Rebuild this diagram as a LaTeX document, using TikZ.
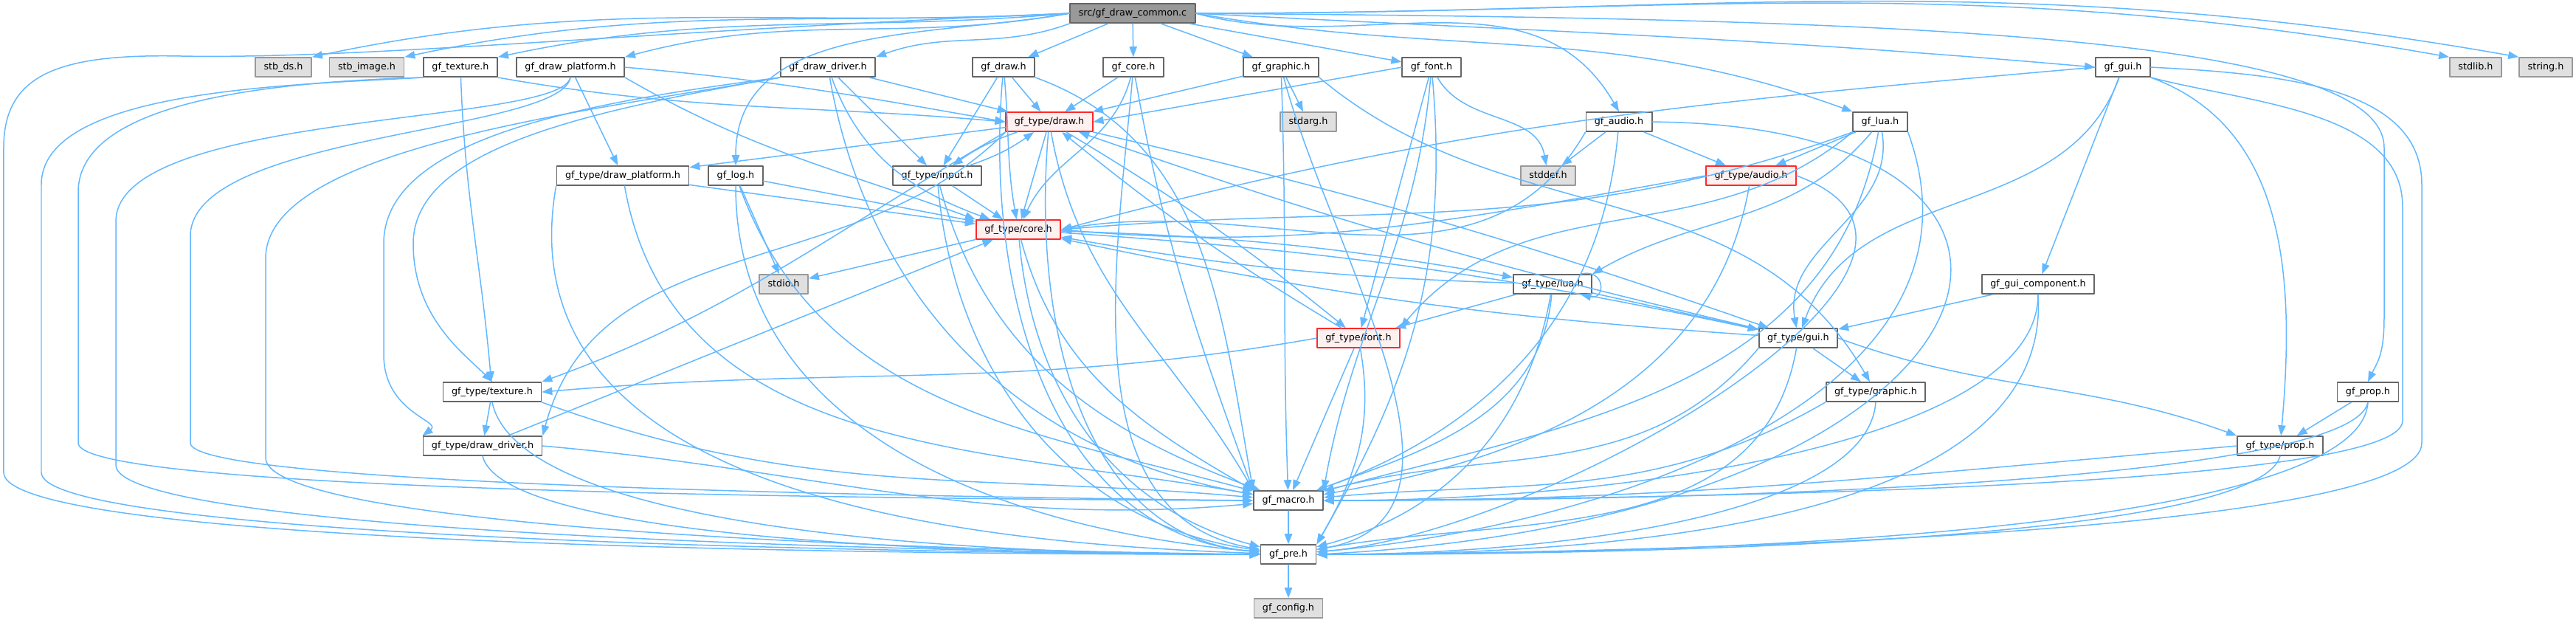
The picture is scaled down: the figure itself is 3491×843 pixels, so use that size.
\documentclass[tikz,border=0pt]{standalone}
\usepackage{fontspec}
\setmainfont{DejaVu Sans}
\usetikzlibrary{arrows.meta}
\begin{document}
\begin{tikzpicture}[x=0.05pt, y=0.05pt, line cap=round, line join=round,
  >={Triangle[length=0.7pt,width=0.52pt]},
  hfile/.style={draw=hborder, fill=white, line width=0.09pt, minimum height=1.3pt, inner xsep=0.575pt, inner ysep=0pt, text height=0.48pt, text depth=0.14pt, font=\fontsize{0.6375pt}{0.78pt}\selectfont},
  redfile/.style={hfile, draw=redborder, fill=redfill},
  sysfile/.style={hfile, draw=sysborder, fill=sysfill},
  rootfile/.style={hfile, draw=hborder, fill=rootfill},
  dep/.style={draw=depblue, line width=0.075pt, ->}]
  \definecolor{depblue}{RGB}{99,184,255}
  \definecolor{hborder}{RGB}{102,102,102}
  \definecolor{redborder}{RGB}{255,40,40}
  \definecolor{redfill}{RGB}{255,240,240}
  \definecolor{sysborder}{RGB}{153,153,153}
  \definecolor{sysfill}{RGB}{224,224,224}
  \definecolor{rootfill}{RGB}{153,153,153}
  \useasboundingbox (0,0) rectangle (3491,-843);
  \node[rootfile] (main) at (1535,-18) {src/gf\_draw\_common.c};
  \node[sysfile] (stbds) at (384,-91) {stb\_ds.h};
  \node[sysfile] (stbimage) at (497,-91) {stb\_image.h};
  \node[hfile] (texture) at (624,-91) {gf\_texture.h};
  \node[hfile] (drawplat) at (773,-91) {gf\_draw\_platform.h};
  \node[hfile] (drawdrv) at (1122,-91) {gf\_draw\_driver.h};
  \node[hfile] (draw) at (1360,-91) {gf\_draw.h};
  \node[hfile] (core) at (1536,-91) {gf\_core.h};
  \node[hfile] (graphic) at (1736,-91) {gf\_graphic.h};
  \node[hfile] (font) at (1940,-91) {gf\_font.h};
  \node[hfile] (gui) at (2877,-91) {gf\_gui.h};
  \node[sysfile] (stdlib) at (3355,-91) {stdlib.h};
  \node[sysfile] (string) at (3450,-91) {string.h};
  \node[redfile] (tdraw) at (1422,-165) {gf\_type/draw.h};
  \node[sysfile] (stdarg) at (1773,-165) {stdarg.h};
  \node[hfile] (audio) at (2194,-165) {gf\_audio.h};
  \node[hfile] (lua) at (2548,-165) {gf\_lua.h};
  \node[hfile] (tdrawplat) at (844,-238) {gf\_type/draw\_platform.h};
  \node[hfile] (log) at (997,-238) {gf\_log.h};
  \node[hfile] (tinput) at (1270,-238) {gf\_type/input.h};
  \node[sysfile] (stddef) at (2098,-238) {stddef.h};
  \node[redfile] (taudio) at (2373,-238) {gf\_type/audio.h};
  \node[redfile] (tcore) at (1380,-311) {gf\_type/core.h};
  \node[sysfile] (stdio) at (1062,-385) {stdio.h};
  \node[hfile] (tlua) at (2104,-385) {gf\_type/lua.h};
  \node[hfile] (guicomp) at (2762,-385) {gf\_gui\_component.h};
  \node[redfile] (tfont) at (1841,-458) {gf\_type/font.h};
  \node[hfile] (tgui) at (2437,-458) {gf\_type/gui.h};
  \node[hfile] (ttexture) at (667,-531) {gf\_type/texture.h};
  \node[hfile] (tgraphic) at (2542,-531) {gf\_type/graphic.h};
  \node[hfile] (prop) at (3209,-531) {gf\_prop.h};
  \node[hfile] (tdrawdrv) at (654,-604) {gf\_type/draw\_driver.h};
  \node[hfile] (tprop) at (3090,-604) {gf\_type/prop.h};
  \node[hfile] (macro) at (1746,-678) {gf\_macro.h};
  \node[hfile] (pre) at (1746,-751) {gf\_pre.h};
  \node[sysfile] (config) at (1746,-824) {gf\_config.h};
  \draw[dep] (main.west) to[out=183,in=12] (stbds.north east);
  \draw[dep] (main.west) to[out=183,in=12] (stbimage.north east);
  \draw[dep] (main.west) to[out=185,in=12] (texture.north east);
  \draw[dep] (main.west) to[out=190,in=15] (drawplat.north east);
  \draw[dep] (main.south west) to[out=200,in=20] (drawdrv.north east);
  \draw[dep] (main) -- (draw);
  \draw[dep] (main) -- (core);
  \draw[dep] (main) -- (graphic);
  \draw[dep] (main) -- (font);
  \draw[dep] (main.east) to[out=-3,in=175] (gui.west);
  \draw[dep] (main.east) to[out=0,in=170] (stdlib.north west);
  \draw[dep] (main.east) to[out=0,in=170] (string.north west);
  \draw[dep] (main.west) to[out=190,in=90] (log.north);
  \draw[dep] (main.east) to[out=-15,in=120] (audio.north);
  \draw[dep] (main.east) to[out=-10,in=160] (lua.north west);
  \draw[dep] (main.east) .. controls (2500,-25) and (3231,-40) .. (3231,-200) -- (3231,-430) .. controls (3231,-480) and (3222,-490) .. (prop.north);
  \draw[dep] (main.west) .. controls (900,-40) and (500,-80) .. (250,-76) .. controls (80,-72) and (5,-100) .. (5,-200) -- (5,-640) .. controls (5,-730) and (1000,-751) .. (pre.west);
  \draw[dep] (texture.south east) to[out=-10,in=175] (tdraw.west);
  \draw[dep] (texture) to[out=-88,in=95] (ttexture);
  \draw[dep] (texture.south west) .. controls (400,-110) and (106,-130) .. (106,-260) -- (106,-600) .. controls (106,-660) and (1000,-675) .. (macro.west);
  \draw[dep] (texture.south west) .. controls (400,-115) and (56,-120) .. (56,-250) -- (56,-640) .. controls (56,-720) and (1000,-748) .. (pre.west);
  \draw[dep] (drawplat) -- (tdrawplat);
  \draw[dep] (drawplat.east) to[out=-5,in=170] (tdraw.west);
  \draw[dep] (drawplat.south east) to[out=-30,in=160] (tcore.north west);
  \draw[dep] (drawplat.south) .. controls (760,-180) and (258,-180) .. (258,-320) -- (258,-600) .. controls (258,-650) and (1000,-670) .. (macro.west);
  \draw[dep] (drawplat.south) .. controls (760,-170) and (157,-150) .. (157,-300) -- (157,-630) .. controls (157,-710) and (1000,-745) .. (pre.west);
  \draw[dep] (drawdrv) -- (tdraw);
  \draw[dep] (drawdrv) -- (tinput);
  \draw[dep] (drawdrv.south west) .. controls (780,-140) and (520,-190) .. (520,-330) -- (520,-480) .. controls (520,-560) and (600,-570) .. (tdrawdrv.north west);
  \draw[dep] (drawdrv.south west) .. controls (800,-150) and (560,-200) .. (560,-330) .. controls (560,-430) and (630,-480) .. (ttexture.north);
  \draw[dep] (drawdrv) to[out=-70,in=160] (tcore);
  \draw[dep] (drawdrv) to[out=-80,in=170] (macro);
  \draw[dep] (drawdrv.south west) .. controls (800,-150) and (360,-200) .. (360,-350) -- (360,-620) .. controls (360,-700) and (1000,-742) .. (pre.west);
  \draw[dep] (draw) -- (tdraw);
  \draw[dep] (draw) -- (tinput);
  \draw[dep] (draw) to[out=-85,in=100] (tcore);
  \draw[dep] (draw.south east) to[out=-20,in=100] (macro.north west);
  \draw[dep] (draw) to[out=-95,in=175] (pre);
  \draw[dep] (core) -- (tdraw);
  \draw[dep] (core) to[out=-105,in=65] (tcore);
  \draw[dep] (core) to[out=-80,in=110] (macro.north west);
  \draw[dep] (core) to[out=-95,in=170] (pre);
  \draw[dep] (graphic) -- (tdraw);
  \draw[dep] (graphic) -- (stdarg);
  \draw[dep] (graphic.south east) to[out=-40,in=120] (tgraphic);
  \draw[dep] (graphic) to[out=-88,in=92] (macro);
  \draw[dep] (graphic) to[out=-75,in=10] (pre);
  \draw[dep] (font.west) to[out=190,in=10] (tdraw.east);
  \draw[dep] (font) -- (tfont);
  \draw[dep] (font) to[out=-60,in=100] (stddef);
  \draw[dep] (font) to[out=-95,in=80] (macro.north east);
  \draw[dep] (font) to[out=-85,in=60] (pre.north east);
  \draw[dep] (gui.west) to[out=185,in=15] (tcore.east);
  \draw[dep] (gui) to[out=-110,in=70] (tgui);
  \draw[dep] (gui) -- (guicomp);
  \draw[dep] (gui.south east) to[out=-20,in=85] (tprop);
  \draw[dep] (gui.south east) .. controls (3050,-140) and (3256,-150) .. (3256,-280) -- (3256,-570) .. controls (3256,-660) and (2300,-675) .. (macro.east);
  \draw[dep] (gui.east) .. controls (3100,-100) and (3282,-120) .. (3282,-250) -- (3282,-600) .. controls (3282,-720) and (2300,-748) .. (pre.east);
  \draw[dep] (tdraw) -- (tdrawplat);
  \draw[dep] (tdraw) to[bend right=8] (tinput);
  \draw[dep] (tinput) to[bend right=8] (tdraw);
  \draw[dep] (tdraw) -- (tcore);
  \draw[dep] (tdraw.south west) to[out=-150,in=20] (ttexture.north east);
  \draw[dep] (tdraw.south west) to[out=-135,in=75] (tdrawdrv.north east);
  \draw[dep] (tdraw) to[bend left=4] (tfont);
  \draw[dep] (tfont) to[bend left=4] (tdraw);
  \draw[dep] (tdraw) to[bend left=3] (tgui);
  \draw[dep] (tgui) to[bend left=3] (tdraw);
  \draw[dep] (tdraw) to[out=-80,in=120] (macro.north west);
  \draw[dep] (tdraw) to[out=-95,in=175] (pre);
  \draw[dep] (audio) -- (stddef);
  \draw[dep] (audio) -- (taudio);
  \draw[dep] (audio.south west) to[out=-120,in=10] (tcore.east);
  \draw[dep] (audio) to[out=-95,in=20] (macro);
  \draw[dep] (audio.east) .. controls (2900,-170) and (2750,-700) .. (pre.east);
  \draw[dep] (lua) -- (taudio);
  \draw[dep] (lua.south west) to[out=-160,in=5] (tcore.east);
  \draw[dep] (lua) to[out=-130,in=30] (tlua.north east);
  \draw[dep] (lua.south west) to[out=-140,in=50] (tfont.north east);
  \draw[dep] (lua) to[out=-80,in=100] (tgui);
  \draw[dep] (lua) to[out=-100,in=15] (macro);
  \draw[dep] (lua.south east) to[out=-70,in=5] (pre);
  \draw[dep] (tdrawplat) -- (tcore);
  \draw[dep] (tdrawplat) to[out=-80,in=170] (macro);
  \draw[dep] (tdrawplat.south west) to[out=-100,in=178] (pre);
  \draw[dep] (log) -- (stdio);
  \draw[dep] (log) -- (tcore);
  \draw[dep] (log) to[out=-70,in=165] (macro);
  \draw[dep] (log) to[out=-90,in=175] (pre);
  \draw[dep] (tinput) -- (tcore);
  \draw[dep] (tinput) to[out=-75,in=160] (macro);
  \draw[dep] (tinput) to[out=-85,in=172] (pre);
  \draw[dep] (taudio.west) to[out=190,in=-5] (tcore.east);
  \draw[dep] (taudio) to[out=-100,in=10] (macro);
  \draw[dep] (taudio.east) to[out=-20,in=5] (pre);
  \draw[dep] (tcore) -- (stdio);
  \draw[dep] (tcore) to[bend left=4] (tlua);
  \draw[dep] (tlua) to[bend left=4] (tcore);
  \draw[dep] (tcore) to[bend left=4] (tgui);
  \draw[dep] (tgui) to[bend left=4] (tcore);
  \draw[dep] (tcore) to[out=-75,in=150] (macro.north west);
  \draw[dep] (tcore) to[out=-85,in=165] (pre);
  \draw[dep] (tlua.20) .. controls +(34,8) and +(34,-8) .. (tlua.-20);
  \draw[dep] (tlua) -- (tfont);
  \draw[dep] (tlua) -- (tgui);
  \draw[dep] (tlua) to[out=-95,in=20] (macro);
  \draw[dep] (tlua) to[out=-100,in=15] (pre);
  \draw[dep] (guicomp) -- (tgui);
  \draw[dep] (guicomp.south) .. controls (2762,-600) and (2200,-678) .. (macro.east);
  \draw[dep] (guicomp.south) .. controls (2780,-680) and (2300,-751) .. (pre.east);
  \draw[dep] (tfont.west) to[out=190,in=5] (ttexture.east);
  \draw[dep] (tfont) -- (macro);
  \draw[dep] (tfont) to[out=-80,in=60] (pre.north east);
  \draw[dep] (tgui) -- (tgraphic);
  \draw[dep] (tgui.east) to[out=-20,in=160] (tprop.north west);
  \draw[dep] (tgui.south west) to[out=-130,in=15] (macro);
  \draw[dep] (tgui) to[out=-100,in=10] (pre);
  \draw[dep] (ttexture) -- (tdrawdrv);
  \draw[dep] (ttexture.south east) to[out=-20,in=175] (macro);
  \draw[dep] (ttexture.south) .. controls (700,-700) and (1200,-751) .. (pre.west);
  \draw[dep] (tgraphic.south west) to[out=-150,in=5] (macro);
  \draw[dep] (tgraphic.south) .. controls (2530,-700) and (2100,-751) .. (pre.east);
  \draw[dep] (prop) -- (tprop);
  \draw[dep] (prop.south) .. controls (3190,-640) and (2500,-678) .. (macro.east);
  \draw[dep] (prop.south) .. controls (3200,-700) and (2500,-751) .. (pre.east);
  \draw[dep] (tdrawdrv) -- (tcore);
  \draw[dep] (tdrawdrv.east) to[out=-5,in=185] (macro);
  \draw[dep] (tdrawdrv.south) .. controls (680,-720) and (1200,-751) .. (pre.west);
  \draw[dep] (tprop.west) to[out=185,in=0] (macro);
  \draw[dep] (tprop.south) .. controls (3060,-720) and (2400,-751) .. (pre.east);
  \draw[dep] (macro) -- (pre);
  \draw[dep] (pre) -- (config);
\end{tikzpicture}
\end{document}
